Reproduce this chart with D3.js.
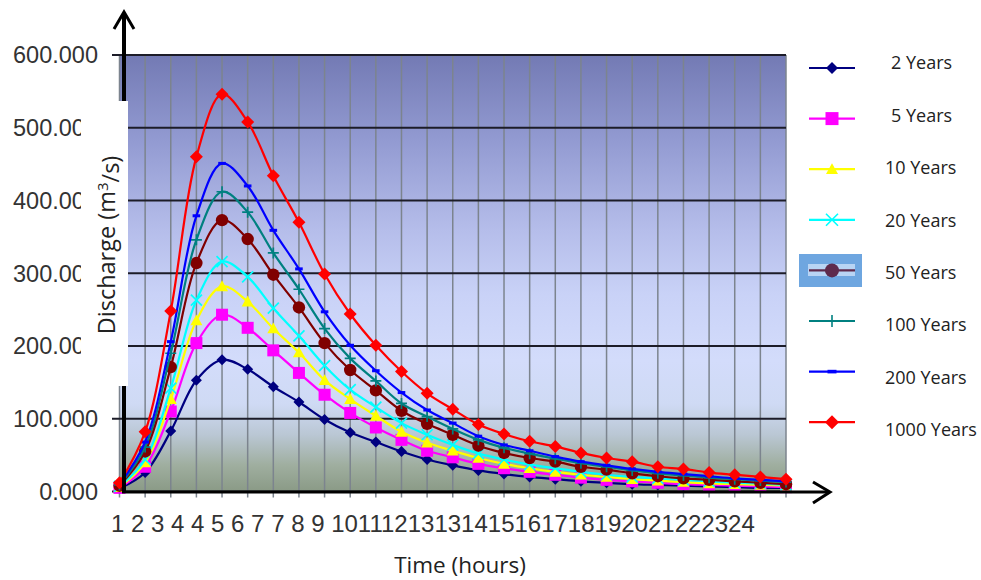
<!DOCTYPE html>
<html><head><meta charset="utf-8">
<script src="https://cdn.jsdelivr.net/npm/d3@7"></script>
<style>body{margin:0;background:#fff}svg{display:block}</style>
</head><body>
<svg id="c" width="981" height="580"></svg>
<script>
// ---------- data ----------
const tickLabels = ["1","2","3","4","4","5","6","7","7","8","9","10","11","12","13","13","14","15","16","17","18","19","20","21","22","23","24"];
const yTicks = [0,100,200,300,400,500,600];
const seriesNames = ["2 Years","5 Years","10 Years","20 Years","50 Years","100 Years","200 Years","1000 Years"];
const q2    = [4, 26, 83, 153, 181, 168, 144, 123, 99, 81, 68, 55, 44, 36, 29, 24, 20, 17, 14, 12, 10, 9, 8, 7, 6, 5, 5];
const q5    = [5, 34, 110, 204, 243, 225, 194, 163, 133, 108, 88, 71, 56, 47, 38, 32, 27, 23, 19, 16, 14, 12, 10, 9, 8, 7, 6];
const q10   = [6, 40, 127, 235, 282, 261, 224, 191, 153, 127, 104, 82, 67, 56, 46, 38, 32, 27, 23, 20, 17, 15, 13, 11, 10, 9, 8];
const q20   = [7, 44, 142, 263, 316, 295, 252, 214, 173, 140, 116, 94, 78, 64, 52, 44, 37, 32, 27, 23, 20, 18, 16, 14, 12, 11, 9];
const q50   = [8, 55, 171, 314, 373, 347, 298, 253, 204, 167, 139, 111, 93, 78, 63, 53, 46, 41, 34, 30, 25, 21, 18, 16, 14, 12, 10];
const q100  = [9, 61, 190, 346, 412, 384, 328, 278, 224, 183, 152, 121, 103, 86, 71, 60, 52, 45, 39, 34, 29, 25, 22, 19, 17, 15, 13];
const q200  = [10, 68, 206, 379, 451, 420, 359, 306, 247, 201, 166, 136, 112, 94, 76, 64, 56, 48, 41, 36, 31, 27, 24, 21, 18, 16, 14];
const q1000 = [12, 82, 248, 460, 546, 508, 434, 370, 299, 244, 201, 165, 135, 113, 92, 79, 69, 62, 53, 46, 41, 34, 31, 26, 23, 20, 17];
const seriesValues = [q2, q5, q10, q20, q50, q100, q200, q1000];

// ---------- styles ----------
const colors = ["#000080","#ff00ff","#ffff00","#00ffff","#800000","#008080","#0000ff","#ff0000"];
const markerKinds = ["diamond","square","triangle","times","circle","plus","dash","diamond"];

const svg = d3.select("#c");
const L = 119.5, R = 786, T = 55, B = 491.5;
const x = d3.scaleLinear().domain([0, tickLabels.length - 1]).range([L, R]);
const y = d3.scaleLinear().domain([0, 600]).range([B, T]);

// gradient
const defs = svg.append("defs");
const g = defs.append("linearGradient").attr("id","bg").attr("x1",0).attr("y1",0).attr("x2",0).attr("y2",1);
[[0,"#737ab4"],[0.2,"#939bd2"],[0.4,"#b5bdea"],[0.55,"#c9d2f7"],[0.7,"#d3dcfb"],[0.8,"#cfdaf4"],[0.87,"#bac7d4"],[0.94,"#9fae9f"],[1,"#8a9a86"]]
  .forEach(([o,c]) => g.append("stop").attr("offset",o).attr("stop-color",c));

svg.append("rect").attr("x",L).attr("y",T).attr("width",R-L).attr("height",B-T).attr("fill","url(#bg)");

// vertical grid lines + ticks
svg.append("g").selectAll("line").data(d3.range(tickLabels.length)).join("line")
  .attr("x1", d => x(d)).attr("x2", d => x(d))
  .attr("y1", T).attr("y2", B + 6)
  .attr("stroke", "#7c848e").attr("stroke-width", 1.5);

// horizontal grid lines
svg.append("g").selectAll("line").data(yTicks).join("line")
  .attr("x1", 112).attr("x2", R)
  .attr("y1", d => y(d)).attr("y2", d => y(d))
  .attr("stroke", "#1c1c28").attr("stroke-width", 1.8);

// marker generator
function markerPath(kind, s) {
  const p = d3.path();
  if (kind === "diamond") { p.moveTo(0,-s); p.lineTo(s,0); p.lineTo(0,s); p.lineTo(-s,0); p.closePath(); }
  else if (kind === "square") { p.rect(-s,-s,2*s,2*s); }
  else if (kind === "triangle") { p.moveTo(0,-s); p.lineTo(s,s*0.8); p.lineTo(-s,s*0.8); p.closePath(); }
  else if (kind === "circle") { p.arc(0,0,s,0,2*Math.PI); }
  else if (kind === "times") { p.moveTo(-s,-s); p.lineTo(s,s); p.moveTo(s,-s); p.lineTo(-s,s); }
  else if (kind === "plus") { p.moveTo(-s,0); p.lineTo(s,0); p.moveTo(0,-s); p.lineTo(0,s); }
  else if (kind === "dash") { p.rect(-s, -s*0.4, 2*s, s*0.8); }
  return p.toString();
}
const plotSize = {diamond:5.5, square:6, triangle:6, circle:6.2, times:5.5, plus:5.5, dash:3.8};
const redSize = 6.5;

const line = d3.line().x((d,i) => x(i)).y(d => y(d)).curve(d3.curveCatmullRom.alpha(0.5));

seriesValues.forEach((vals, si) => {
  const gS = svg.append("g");
  gS.append("path").attr("d", line(vals)).attr("fill","none")
    .attr("stroke", colors[si]).attr("stroke-width", 2.2);
  const kind = markerKinds[si];
  const stroked = (kind === "times" || kind === "plus");
  const sz = si === 7 ? redSize : plotSize[kind];
  gS.selectAll("path.m").data(vals).join("path").attr("class","m")
    .attr("transform", (d,i) => `translate(${x(i)},${y(d)})`)
    .attr("d", markerPath(kind, sz))
    .attr("fill", stroked ? "none" : colors[si])
    .attr("stroke", stroked ? colors[si] : "none")
    .attr("stroke-width", 1.7);
});

// axes arrows
svg.append("line").attr("x1",122).attr("x2",829).attr("y1",492).attr("y2",492).attr("stroke","#000").attr("stroke-width",3);
svg.append("path").attr("d","M813,482 L830,492 L813,503").attr("fill","none").attr("stroke","#000").attr("stroke-width",3);
svg.append("line").attr("x1",124).attr("x2",124).attr("y1",13).attr("y2",493).attr("stroke","#000").attr("stroke-width",4);
svg.append("path").attr("d","M114,29 L124,12 L134,29").attr("fill","none").attr("stroke","#000").attr("stroke-width",3);

// y tick labels
svg.append("g").selectAll("text").data(yTicks).join("text")
  .attr("x", 98).attr("y", d => y(d)).attr("dy","0.36em")
  .attr("text-anchor","end")
  .attr("font-family","'Liberation Sans', Arial, sans-serif").attr("font-size",23.5)
  .attr("fill","#333").text(d => d3.format(".3f")(d));

// white patch over labels (as in reference)
svg.append("rect").attr("x",81).attr("y",101).attr("width",47).attr("height",285).attr("fill","#fff");

// y title
const yt = svg.append("text").attr("transform","translate(115,245) rotate(-90)")
  .attr("text-anchor","middle").attr("font-family","'Open Sans', sans-serif").attr("font-size",23.5).attr("fill","#222");
yt.append("tspan").text("Discharge (m");
yt.append("tspan").attr("dy","-0.45em").attr("font-size",15).text("3");
yt.append("tspan").attr("dy","0.45em").text("/s)");

// x tick labels (as laid out in reference)
svg.append("text").attr("x",111).attr("y",532)
  .attr("font-family","'Liberation Sans', Arial, sans-serif").attr("font-size",24).attr("fill","#333")
  .attr("xml:space","preserve")
  .text(tickLabels.map(t => t.length === 1 ? t + " " : t).join(""));

// x title
svg.append("text").attr("x",460).attr("y",573).attr("text-anchor","middle")
  .attr("font-family","'Open Sans', sans-serif").attr("font-size",22.5).attr("fill","#222").text("Time (hours)");

// legend
const lg = svg.append("g");
const legSize = {diamond:6, square:6.5, triangle:6, circle:7, times:6, plus:6, dash:4.5};
// highlight box for 50 Years
lg.append("rect").attr("x",799).attr("y",254).attr("width",63).attr("height",33).attr("fill","#6ea6e0");
lg.append("rect").attr("x",808).attr("y",264).attr("width",47).attr("height",12).attr("fill","#b8d4f4");
seriesNames.forEach((name, i) => {
  const ly = 68 + i * 50.6;
  const ty = 63 + i * 52.4;
  const kind = markerKinds[i];
  const stroked = (kind === "times" || kind === "plus");
  const col = i === 4 ? "#5e2a4c" : colors[i];
  lg.append("line").attr("x1",809).attr("x2",855).attr("y1",ly).attr("y2",ly).attr("stroke",col).attr("stroke-width",2.2);
  lg.append("path").attr("transform",`translate(832,${ly})`)
    .attr("d", markerPath(kind, i === 7 ? 7 : legSize[kind]))
    .attr("fill", stroked ? "none" : col)
    .attr("stroke", stroked ? col : "none").attr("stroke-width",1.6);
  lg.append("text").attr("x", i < 2 ? 891 : 885).attr("y", ty).attr("dy","0.36em")
    .attr("font-family","'Open Sans', sans-serif").attr("font-size",18).attr("fill","#222").text(name);
});
</script>
</body></html>
